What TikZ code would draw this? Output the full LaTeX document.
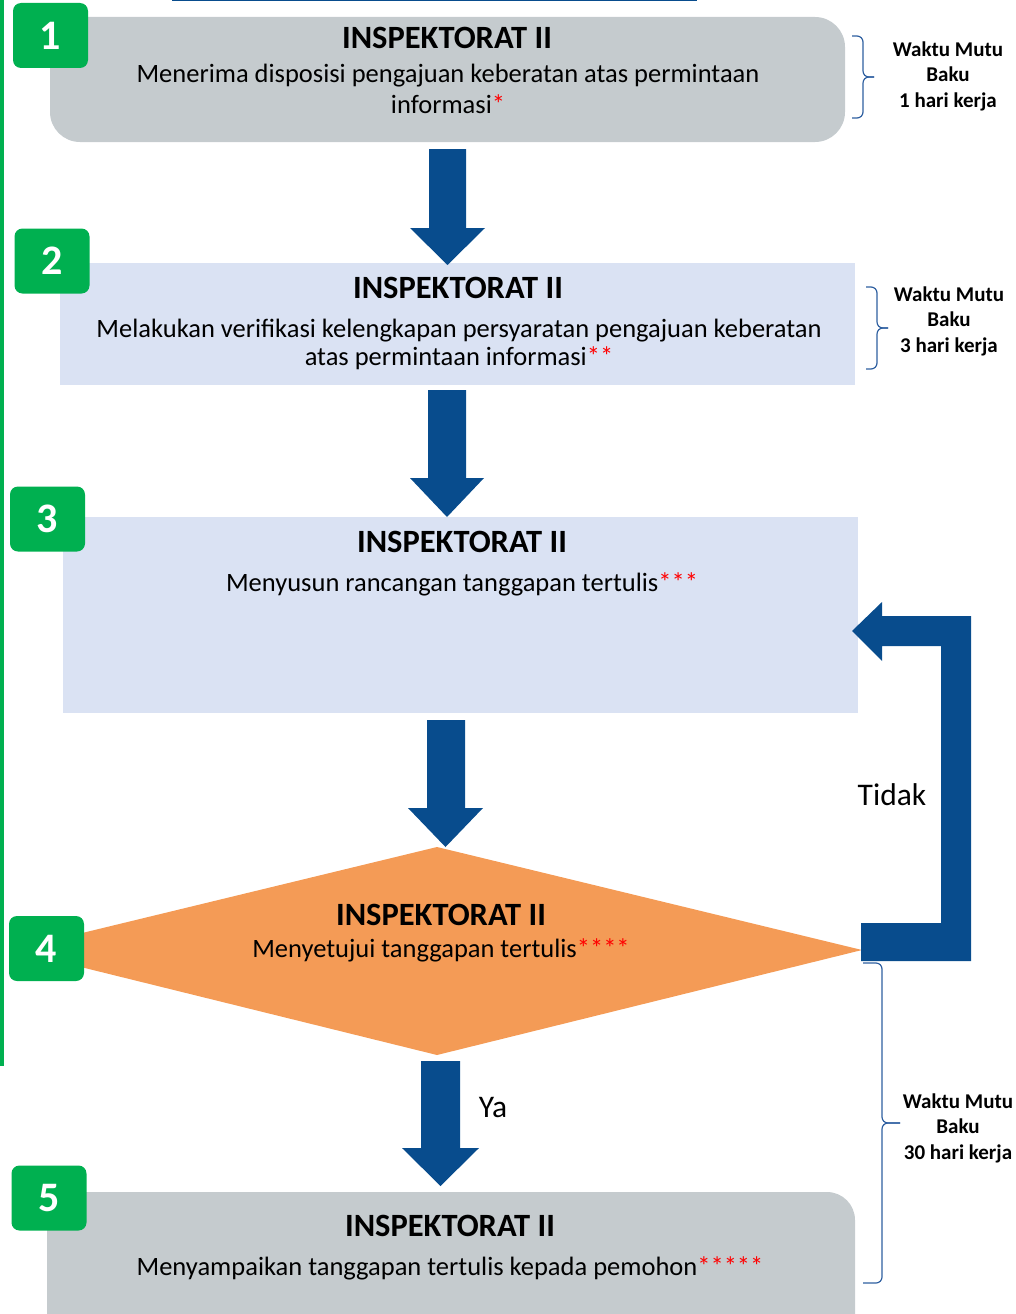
\documentclass[tikz,border=0pt]{standalone}
\usepackage{fontspec}
\setmainfont{Carlito}
\definecolor{boxgray}{RGB}{197,203,206}
\definecolor{boxblue}{RGB}{218,226,243}
\definecolor{arrblue}{RGB}{8,76,141}
\definecolor{badgegreen}{RGB}{0,176,80}
\definecolor{diaorange}{RGB}{244,155,86}
\definecolor{bracecol}{RGB}{46,95,160}
\newcommand\downblock[7]{\fill[bigarrow] (#1,#3) -- (#2,#3) -- (#2,#4) -- (#6,#4) -- ({(#5+#6)/2},#7) -- (#5,#4) -- (#1,#4) -- cycle;}
% brace: x-end, top, bottom, spine x, tip x
\newcommand\mybrace[5]{%
  \draw[bracestyle] (#1,#2) -- (#4,#2) -- (#4,{(#2+#3)/2}) -- (#5,{(#2+#3)/2});
  \draw[bracestyle] (#5,{(#2+#3)/2}) -- (#4,{(#2+#3)/2}) -- (#4,#3) -- (#1,#3);}
\begin{document}
\begin{tikzpicture}[x=1pt,y=-1pt,
  badge/.style={fill=badgegreen, rounded corners=8pt, text=white, font=\fontsize{42}{44}\selectfont\bfseries, minimum width=75pt, minimum height=65pt, inner sep=0pt},
  head/.style={font=\fontsize{32.5}{36}\selectfont\bfseries, inner sep=0pt},
  body/.style={font=\fontsize{26.5}{31}\selectfont, align=center, inner sep=0pt},
  wmb/.style={font=\fontsize{21}{25.5}\selectfont\bfseries, align=center, inner sep=0pt},
  lbl/.style={font=\fontsize{31.5}{34}\selectfont, inner sep=0pt},
  bigarrow/.style={fill=arrblue, draw=none},
  bracestyle/.style={draw=bracecol, line width=1.2pt, rounded corners=6pt},
  stepbox/.style={inner sep=0pt, draw=none}]
\useasboundingbox (0,0) rectangle (1015,1314);
\clip (0,0) rectangle (1015,1314);

% decorative lines
\fill[badgegreen] (0,0) rectangle (4,1066);
\fill[arrblue] (172,-2) rectangle (697,1.5);

% boxes
\node[stepbox, fill=boxgray, rounded corners=30pt, minimum width=795pt, minimum height=125pt] (b1) at (447.5,79.5) {};
\node[stepbox, fill=boxblue, minimum width=795pt, minimum height=122pt] (b2) at (457.5,324) {};
\node[stepbox, fill=boxblue, minimum width=795pt, minimum height=196pt] (b3) at (460.5,615) {};
\fill[diaorange] (12,950) coordinate (dl) -- (437,847) coordinate (dt) -- (862,950) coordinate (dr) -- (437,1055) coordinate (db) -- cycle;
\node[stepbox, fill=boxgray, rounded corners=28pt, minimum width=808pt, minimum height=160pt] (b5) at (451,1272) {};

% texts
\node[head] (h1) at (447,38) {INSPEKTORAT II};
\node[body] (t1) at (448,88.5) {Menerima disposisi pengajuan keberatan atas permintaan\\informasi\textcolor{red}{*}};
\node[head] (h2) at (458,288) {INSPEKTORAT II};
\node[body, font=\fontsize{26.5}{28.5}\selectfont] (t2) at (459,344.5) {Melakukan verifikasi kelengkapan persyaratan pengajuan keberatan\\atas permintaan informasi\textcolor{red}{**}};
\node[head] (h3) at (462,542) {INSPEKTORAT II};
\node[body] (t3) at (462,584) {Menyusun rancangan tanggapan tertulis\textcolor{red}{***}};
\node[head] (h4) at (441,915) {INSPEKTORAT II};
\node[body] (t4) at (441,950.5) {Menyetujui tanggapan tertulis\textcolor{red}{****}};
\node[head] (h5) at (450,1226) {INSPEKTORAT II};
\node[body] (t5) at (450,1268) {Menyampaikan tanggapan tertulis kepada pemohon\textcolor{red}{*****}};

% badges
\node[badge] (n1) at (50.5,35.5) {1};
\node[badge] (n2) at (52,261) {2};
\node[badge] (n3) at (47.5,519) {3};
\node[badge] (n4) at (46.5,948.5) {4};
\node[badge] (n5) at (49,1198) {5};

% block arrows
\downblock{429}{466}{149}{228}{410}{485}{265}
\downblock{428}{466}{390}{478}{410}{484}{517}
\downblock{427}{465}{720}{808}{408}{483}{847}
\downblock{421}{460}{1061}{1148}{402}{479}{1186}
\fill[bigarrow] (861,923) -- (941,923) -- (941,646) -- (882,646) -- (882,661) -- (852,631) -- (882,602) -- (882,616) -- (971,616) -- (971,961) -- (861,961) -- cycle;

\node[lbl] (tidak) at (892,795) {Tidak};
\node[lbl] (ya) at (493,1107) {Ya};

% braces
\mybrace{852}{36}{118}{863}{874}
\node[wmb] (w1) at (948,76) {Waktu Mutu\\Baku\\1 hari kerja};
\mybrace{866}{287}{369}{877}{888}
\node[wmb] (w2) at (949,321) {Waktu Mutu\\Baku\\3 hari kerja};
\mybrace{863}{963}{1283}{882}{900}
\node[wmb] (w3) at (958,1128) {Waktu Mutu\\Baku\\30 hari kerja};
\end{tikzpicture}
\end{document}
